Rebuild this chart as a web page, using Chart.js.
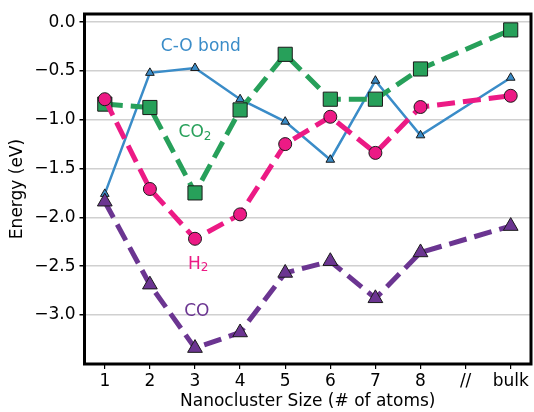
<!DOCTYPE html>
<html><head><meta charset="utf-8">
<script src="https://cdn.jsdelivr.net/npm/chart.js@4/dist/chart.umd.min.js"></script>
<style>html,body{margin:0;padding:0;background:#fff;}canvas{display:block;}</style>
</head><body>
<canvas id="c" width="534" height="412"></canvas>
<script>
const xLabels = ['1','2','3','4','5','6','7','8','//','bulk'];
const xPositions = [0,1,2,3,4,5,6,7,9];
const coBond = [-1.76,-0.52,-0.47,-0.79,-1.02,-1.41,-0.60,-1.16,-0.57];
const co2    = [-0.84,-0.875,-1.75,-0.90,-0.33,-0.79,-0.79,-0.48,-0.08];
const h2     = [-0.79,-1.71,-2.22,-1.97,-1.25,-0.97,-1.34,-0.87,-0.755];
const co     = [-1.84,-2.69,-3.34,-3.18,-2.57,-2.45,-2.83,-2.36,-2.09];
const yTicks = [0,-0.5,-1,-1.5,-2,-2.5,-3];
const seriesNames = ['C-O bond','CO','H','CO'];
const seriesSubs  = ['','2','2',''];
const labelAnchors = [[2.13,-0.255],[2.0,-1.13],[2.07,-2.48],[2.04,-2.97]];

const FONT = 'DejaVu Sans';
const colors = ['#3a8cc8','#27a05a','#ec1a85','#6b3591'];
const pts = arr => arr.map((v,i)=>({x:xPositions[i], y:v}));

const labelPlugin = {
  id:'labels',
  afterDatasetsDraw(chart){
    const {ctx, scales:{x,y}} = chart;
    ctx.save();
    ctx.textBaseline='middle'; ctx.textAlign='left';
    seriesNames.forEach((t,i)=>{
      ctx.fillStyle = colors[i];
      ctx.font = '17px "'+FONT+'"';
      const w1 = ctx.measureText(t).width;
      ctx.font = '12px "'+FONT+'"';
      const w2 = seriesSubs[i] ? ctx.measureText(seriesSubs[i]).width : 0;
      const cx = x.getPixelForValue(labelAnchors[i][0]);
      const cy = y.getPixelForValue(labelAnchors[i][1]);
      const x0 = cx - (w1+w2)/2;
      ctx.font = '17px "'+FONT+'"';
      ctx.fillText(t, x0, cy);
      if (seriesSubs[i]) {
        ctx.font = '12px "'+FONT+'"';
        ctx.fillText(seriesSubs[i], x0 + w1, cy + 4);
      }
    });
    ctx.restore();
  },
  afterDraw(chart){
    const {ctx, chartArea:a} = chart;
    ctx.save();
    ctx.strokeStyle='#000'; ctx.lineWidth=3;
    ctx.strokeRect(a.left, a.top, a.right-a.left, a.bottom-a.top);
    ctx.restore();
  }
};

new Chart(document.getElementById('c'), {
  type:'line',
  data:{datasets:[
    {data:pts(coBond), borderColor:colors[0], borderWidth:2.5, pointStyle:'triangle', pointRadius:5,
     pointBackgroundColor:colors[0], pointBorderColor:'#1a1a1a', pointBorderWidth:1, order:4},
    {data:pts(co2), borderColor:colors[1], borderWidth:5, borderDash:[18,8], pointStyle:'rect', pointRadius:10,
     pointBackgroundColor:colors[1], pointBorderColor:'#1a1a1a', pointBorderWidth:1, order:3},
    {data:pts(h2), borderColor:colors[2], borderWidth:5, borderDash:[18,8], pointStyle:'circle', pointRadius:6.5,
     pointBackgroundColor:colors[2], pointBorderColor:'#1a1a1a', pointBorderWidth:1, order:2},
    {data:pts(co), borderColor:colors[3], borderWidth:5, borderDash:[18,8], pointStyle:'triangle', pointRadius:8.5,
     pointBackgroundColor:colors[3], pointBorderColor:'#1a1a1a', pointBorderWidth:1, order:1}
  ]},
  options:{
    responsive:false, animation:false,
    layout:{autoPadding:false, padding:{top:14,right:3,left:0,bottom:0}},
    plugins:{legend:{display:false}, tooltip:{enabled:false}},
    scales:{
      x:{type:'linear', min:-0.45, max:9.45,
        afterBuildTicks(s){ s.ticks = xLabels.map((_,i)=>({value:i})); },
        afterFit(s){ s.height = 48; s.paddingLeft = 0; s.paddingRight = 0; },
        ticks:{callback:(v)=>xLabels[v], color:'#000', font:{family:FONT,size:17}, padding:2, autoSkip:false, maxRotation:0},
        grid:{drawOnChartArea:false, color:'#000', tickColor:'#000', tickLength:5, lineWidth:1.2},
        border:{display:false},
        title:{display:true, text:'Nanocluster Size (# of atoms)', color:'#000', font:{family:FONT,size:17}, padding:{top:0,bottom:0}}
      },
      y:{type:'linear', min:-3.503, max:0.083,
        afterBuildTicks(s){ s.ticks = yTicks.map(v=>({value:v})); },
        afterFit(s){ s.width = 84.5; s.paddingTop = 0; s.paddingBottom = 0; },
        ticks:{callback:(v)=>(v<0?'\u2212':'')+Math.abs(v).toFixed(1), color:'#000', font:{family:FONT,size:17}, padding:4},
        grid:{color:'#d0d0d0', lineWidth:1.5, tickColor:'#000', tickLength:5},
        border:{display:false},
        title:{display:true, text:'Energy (eV)', color:'#000', font:{family:FONT,size:17}, padding:{top:7,bottom:0}}
      }
    }
  },
  plugins:[labelPlugin]
});
</script>
</body></html>
